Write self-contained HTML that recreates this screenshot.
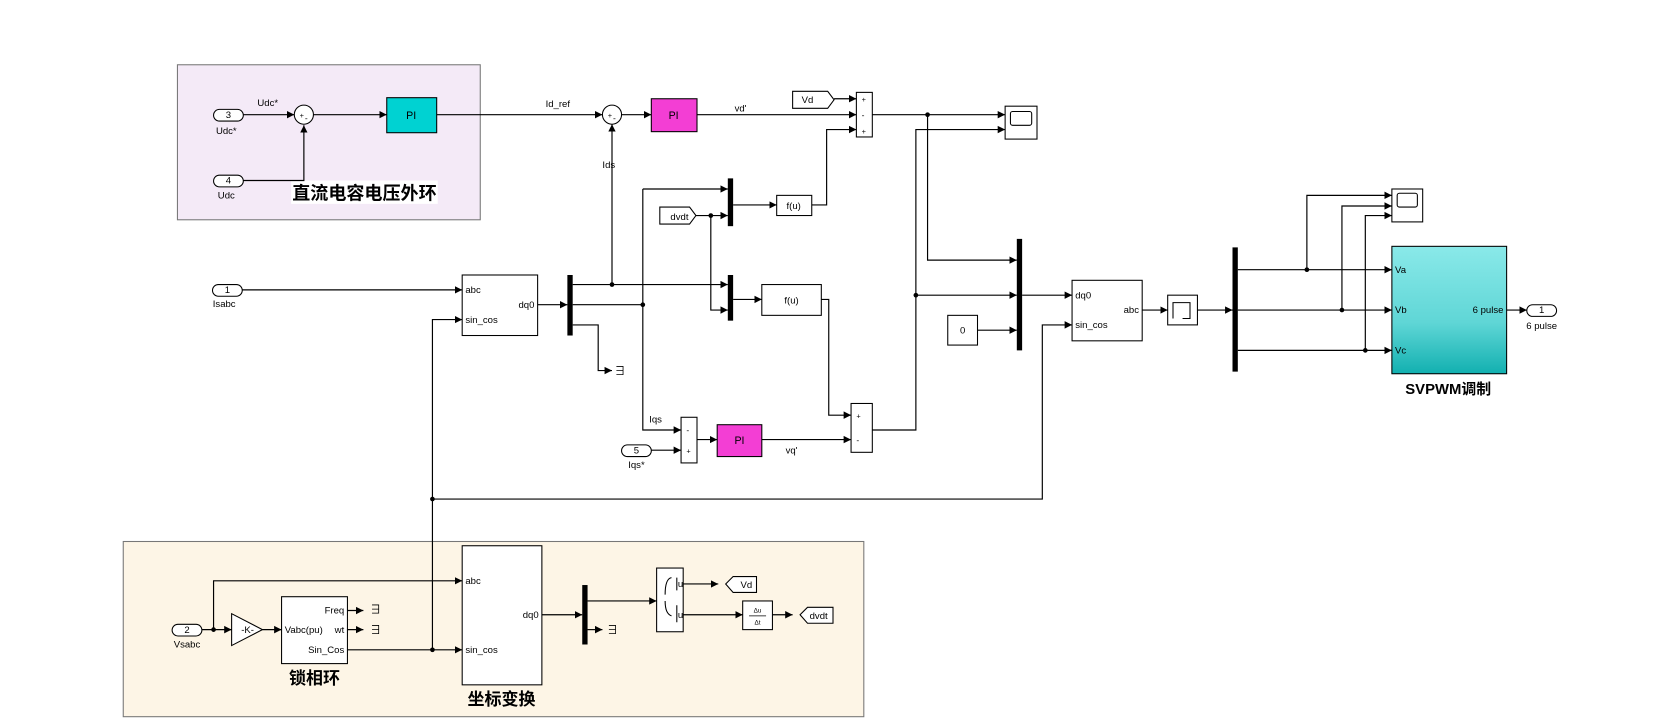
<!DOCTYPE html>
<html><head><meta charset="utf-8"><style>
html,body{margin:0;padding:0;background:#fff;width:1666px;height:722px;overflow:hidden}
svg{display:block}
text{font-family:"Liberation Sans","Noto Sans CJK SC",sans-serif;fill:#000}
</style></head><body>
<svg width="1666" height="722" viewBox="0 0 1568 680" preserveAspectRatio="none" xmlns="http://www.w3.org/2000/svg">
<defs>
<marker id="a" markerWidth="8" markerHeight="8" refX="7" refY="4" orient="auto" markerUnits="userSpaceOnUse"><path d="M0,0.5 L7,4 L0,7.5 z" fill="#000"/></marker>
<linearGradient id="g" x1="0" y1="0" x2="0" y2="1"><stop offset="0" stop-color="#8ae9e9"/><stop offset="0.6" stop-color="#5fd6d6"/><stop offset="1" stop-color="#12b0b0"/></linearGradient>
</defs>
<!-- areas -->
<rect x="167" y="61" width="285" height="146" fill="#f4eaf7" stroke="#777" stroke-width="1"/>
<rect x="116" y="510" width="697" height="165" fill="#fdf5e6" stroke="#777" stroke-width="1"/>
<rect x="274" y="170" width="138" height="22" fill="#fff"/>
<text x="343" y="188" font-size="17" font-weight="bold" text-anchor="middle">直流电容电压外环</text>

<g fill="none" stroke="#000" stroke-width="1.1">
<!-- top outer loop -->
<path d="M229,108 H277" marker-end="url(#a)"/>
<path d="M229,170 H286 V118" marker-end="url(#a)"/>
<path d="M295,108 H364" marker-end="url(#a)"/>
<path d="M411,108 H567" marker-end="url(#a)"/>
<path d="M585,108 H613" marker-end="url(#a)"/>
<path d="M656,108 H806" marker-end="url(#a)"/>
<path d="M785,93 H806" marker-end="url(#a)"/>
<path d="M764,193 H778 V122 H806" marker-end="url(#a)"/>
<path d="M821,108 H946" marker-end="url(#a)"/>
<path d="M873,108 V245 H957" marker-end="url(#a)"/>
<path d="M821,405 H862 V122 H946" marker-end="url(#a)"/>
<path d="M862,278 H957" marker-end="url(#a)"/>
<path d="M920,311 H957" marker-end="url(#a)"/>
<path d="M962,278 H1009" marker-end="url(#a)"/>
<path d="M407,470 H981 V306 H1009" marker-end="url(#a)"/>
<path d="M1075,292 H1099" marker-end="url(#a)"/>
<path d="M1127,292 H1160" marker-end="url(#a)"/>
<path d="M1165,254 H1310" marker-end="url(#a)"/>
<path d="M1165,292 H1310" marker-end="url(#a)"/>
<path d="M1165,330 H1310" marker-end="url(#a)"/>
<path d="M1230,254 V184 H1310" marker-end="url(#a)"/>
<path d="M1263,292 V194 H1310" marker-end="url(#a)"/>
<path d="M1285,330 V203 H1310" marker-end="url(#a)"/>
<path d="M1418,292 H1437" marker-end="url(#a)"/>
<!-- middle -->
<path d="M228,273 H435" marker-end="url(#a)"/>
<path d="M407,612 V301 H435" marker-end="url(#a)"/>
<path d="M506,287 H534" marker-end="url(#a)"/>
<path d="M539,268 H685" marker-end="url(#a)"/>
<path d="M576,268 V117" marker-end="url(#a)"/>
<path d="M539,287 H605"/>
<path d="M605,178 H685" marker-end="url(#a)"/>
<path d="M605,178 V405 H641" marker-end="url(#a)"/>
<path d="M539,306 H563 V349 H576" marker-end="url(#a)"/>
<path d="M655,203 H685" marker-end="url(#a)"/>
<path d="M669,203 V292 H685" marker-end="url(#a)"/>
<path d="M690,193 H731" marker-end="url(#a)"/>
<path d="M690,282 H717" marker-end="url(#a)"/>
<path d="M773,282 H780 V391 H801" marker-end="url(#a)"/>
<path d="M613,424 H641" marker-end="url(#a)"/>
<path d="M656,414 H675" marker-end="url(#a)"/>
<path d="M717,414 H801" marker-end="url(#a)"/>
<!-- bottom -->
<path d="M190,593 H218" marker-end="url(#a)"/>
<path d="M201,593 V547 H435" marker-end="url(#a)"/>
<path d="M247,593 H265" marker-end="url(#a)"/>
<path d="M327,575 H342" marker-end="url(#a)"/>
<path d="M327,593 H342" marker-end="url(#a)"/>
<path d="M327,612 H435" marker-end="url(#a)"/>
<path d="M510,579 H548" marker-end="url(#a)"/>
<path d="M553,566 H618" marker-end="url(#a)"/>
<path d="M553,593 H567" marker-end="url(#a)"/>
<path d="M643,550 H676" marker-end="url(#a)"/>
<path d="M643,579 H699" marker-end="url(#a)"/>
<path d="M727,579 H746" marker-end="url(#a)"/>
</g>
<!-- dots -->
<g fill="#000">
<circle cx="873" cy="108" r="2.2"/><circle cx="862" cy="278" r="2.2"/>
<circle cx="407" cy="470" r="2.2"/><circle cx="407" cy="612" r="2.2"/>
<circle cx="576" cy="268" r="2.2"/><circle cx="605" cy="287" r="2.2"/>
<circle cx="669" cy="203" r="2.2"/><circle cx="201" cy="593" r="2.2"/>
<circle cx="1230" cy="254" r="2.2"/><circle cx="1263" cy="292" r="2.2"/><circle cx="1285" cy="330" r="2.2"/>
<!-- mux bars -->
<rect x="534" y="259" width="5" height="57"/>
<rect x="685" y="168" width="5" height="45"/>
<rect x="685" y="259" width="5" height="43"/>
<rect x="957" y="225" width="5" height="105"/>
<rect x="1160" y="233" width="5" height="117"/>
<rect x="548" y="551" width="5" height="56"/>
</g>
<g stroke="#000" stroke-width="1" fill="#fff">
<!-- ports -->
<rect x="201" y="103" width="28" height="11" rx="5.5"/>
<rect x="201" y="165" width="28" height="11" rx="5.5"/>
<rect x="200" y="268" width="28" height="11" rx="5.5"/>
<rect x="585" y="419" width="28" height="11" rx="5.5"/>
<rect x="162" y="588" width="28" height="11" rx="5.5"/>
<rect x="1437" y="287" width="28" height="11" rx="5.5"/>
<!-- sums -->
<circle cx="286" cy="108" r="9"/>
<circle cx="576" cy="108" r="9"/>
<rect x="806" y="87" width="15" height="42"/>
<rect x="801" y="380" width="20" height="46"/>
<rect x="641" y="393" width="15" height="43"/>
<!-- blocks -->
<rect x="364" y="92" width="47" height="33" fill="#00d2d2"/>
<rect x="613" y="93" width="43" height="31" fill="#f33ed4"/>
<rect x="675" y="400" width="42" height="30" fill="#f33ed4"/>
<rect x="946" y="100" width="30" height="31"/>
<rect x="1310" y="178" width="29" height="31"/>
<rect x="731" y="184" width="33" height="19"/>
<rect x="717" y="268" width="56" height="29"/>
<rect x="892" y="297" width="28" height="28"/>
<rect x="435" y="259" width="71" height="57"/>
<rect x="1009" y="264" width="66" height="57"/>
<rect x="1099" y="278" width="28" height="28"/>
<rect x="1310" y="232" width="108" height="120" fill="url(#g)"/>
<rect x="265" y="562" width="62" height="63"/>
<rect x="435" y="514" width="75" height="131"/>
<rect x="618" y="535" width="25" height="60"/>
<rect x="699" y="566" width="28" height="27"/>
<path d="M218,578 L247,593 L218,608 z"/>
<path d="M746,86 H779 L785,94 L779,102 H746 z"/>
<path d="M621,195 H649 L655,203 L649,211 H621 z"/>
<path d="M683,550 L690,543 H712 V558 H690 z"/>
<path d="M753,579 L760,572 H784 V587 H760 z"/>
</g>
<g fill="none" stroke="#000" stroke-width="1">
<rect x="951" y="105" width="20" height="13" rx="2"/>
<rect x="1315" y="182" width="19" height="13" rx="2"/>
<path d="M1104,300 V285 H1120 V300 H1113"/>
<path d="M626,560 Q626,545 632,544 M626,566 Q626,578 632,580 M637,544 V556 M637,570 V586"/>
</g>
<g font-size="9">
<text x="215" y="111" text-anchor="middle">3</text><text x="213" y="126" text-anchor="middle">Udc*</text>
<text x="215" y="173" text-anchor="middle">4</text><text x="213" y="187" text-anchor="middle">Udc</text>
<text x="214" y="276" text-anchor="middle">1</text><text x="211" y="289" text-anchor="middle">Isabc</text>
<text x="599" y="427" text-anchor="middle">5</text><text x="599" y="441" text-anchor="middle">Iqs*</text>
<text x="176" y="596" text-anchor="middle">2</text><text x="176" y="610" text-anchor="middle">Vsabc</text>
<text x="1451" y="295" text-anchor="middle">1</text><text x="1451" y="310" text-anchor="middle">6 pulse</text>
<text x="252" y="100" text-anchor="middle">Udc*</text>
<text x="525" y="101" text-anchor="middle">Id_ref</text>
<text x="697" y="105" text-anchor="middle">vd'</text>
<text x="573" y="158" text-anchor="middle">Ids</text>
<text x="617" y="398" text-anchor="middle">Iqs</text>
<text x="745" y="427" text-anchor="middle">vq'</text>
<text x="282" y="111" font-size="7">+</text><text x="287" y="114" font-size="8">-</text>
<text x="572" y="111" font-size="7">+</text><text x="577" y="114" font-size="8">-</text>
<text x="811" y="96" font-size="7">+</text><text x="811" y="111" font-size="8">-</text><text x="811" y="126" font-size="7">+</text>
<text x="806" y="394" font-size="7">+</text><text x="806" y="417" font-size="8">-</text>
<text x="646" y="408" font-size="8">-</text><text x="646" y="427" font-size="7">+</text>
<text x="387" y="112" font-size="10" text-anchor="middle">PI</text>
<text x="634" y="112" font-size="10" text-anchor="middle">PI</text>
<text x="696" y="418" font-size="10" text-anchor="middle">PI</text>
<text x="760" y="97" text-anchor="middle">Vd</text>
<text x="631" y="207">dvdt</text>
<text x="747" y="197" text-anchor="middle">f(u)</text>
<text x="745" y="286" text-anchor="middle">f(u)</text>
<text x="906" y="314" text-anchor="middle">0</text>
<text x="438" y="276">abc</text><text x="438" y="304">sin_cos</text><text x="503" y="290" text-anchor="end">dq0</text>
<text x="1012" y="281">dq0</text><text x="1012" y="309">sin_cos</text><text x="1072" y="295" text-anchor="end">abc</text>
<text x="1313" y="257">Va</text><text x="1313" y="295">Vb</text><text x="1313" y="333">Vc</text>
<text x="1415" y="295" text-anchor="end">6 pulse</text>
<text x="233" y="596" text-anchor="middle">-K-</text>
<text x="324" y="578" text-anchor="end">Freq</text>
<text x="324" y="596" text-anchor="end">wt</text>
<text x="268" y="596">Vabc(pu)</text>
<text x="324" y="615" text-anchor="end">Sin_Cos</text>
<text x="438" y="550">abc</text><text x="438" y="615">sin_cos</text><text x="507" y="582" text-anchor="end">dq0</text>
<text x="638" y="553">u</text><text x="638" y="582">u</text>
<text x="697" y="554">Vd</text>
<text x="762" y="583">dvdt</text>
<text x="713" y="577" font-size="6" text-anchor="middle">Δu</text>
<text x="713" y="588" font-size="6" text-anchor="middle">Δt</text>
<text x="348" y="578" font-size="11">∃</text><text x="348" y="597" font-size="11">∃</text>
<text x="571" y="597" font-size="11">∃</text><text x="578" y="353" font-size="11">∃</text>
</g>
<line x1="705" y1="580" x2="721" y2="580" stroke="#000" stroke-width="0.7"/>
<text x="1363" y="371" font-size="14" font-weight="bold" text-anchor="middle">SVPWM调制</text>
<text x="296" y="644" font-size="16" font-weight="bold" text-anchor="middle">锁相环</text>
<text x="472" y="664" font-size="16" font-weight="bold" text-anchor="middle">坐标变换</text>
</svg>
</body></html>
